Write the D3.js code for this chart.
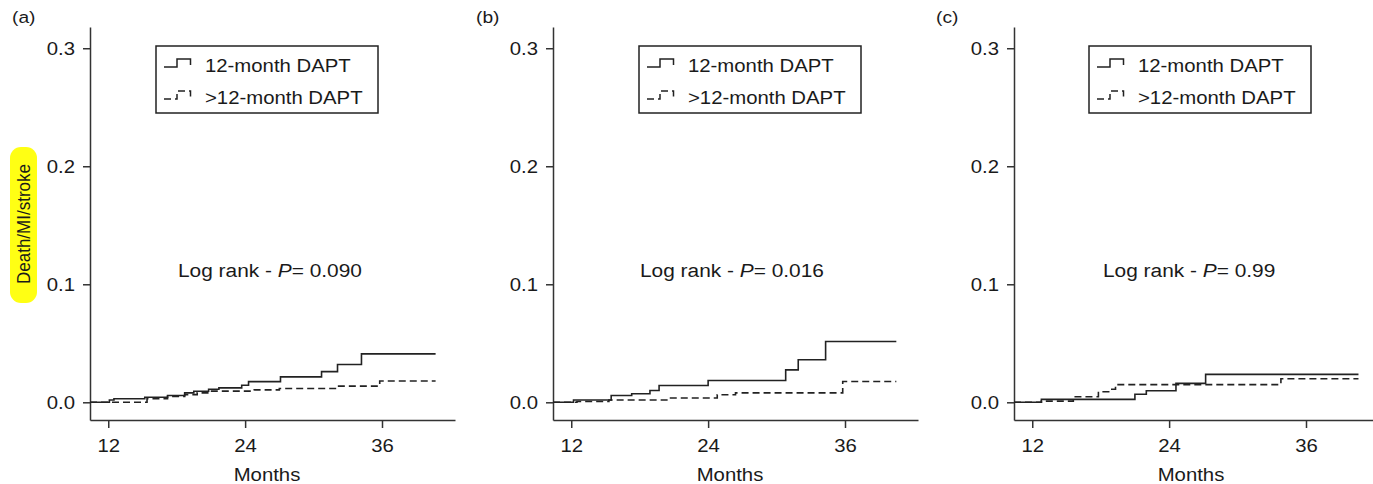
<!DOCTYPE html>
<html>
<head>
<meta charset="utf-8">
<script src="https://cdn.jsdelivr.net/npm/d3@7"></script>
<style>
  body { margin: 0; background: #fff; }
  svg { display: block; font-family: "Liberation Sans", Arial, sans-serif; }
</style>
</head>
<body>
<svg id="chart"></svg>
<script>
const width = 1373;
const height = 484;

const panelLabels = ["(a)", "(b)", "(c)"];
const pValues = ["0.090", "0.016", "0.99"];
const seriesNames = ["12-month DAPT", ">12-month DAPT"];
const xTicks = [12, 24, 36];
const yTicks = [0, 0.1, 0.2, 0.3];
const yLabel = "Death/MI/stroke";
const xLabel = "Months";
const followUpEnd = [40.7, 40.5, 40.6];

// [month, cumulative event rate] step points
const twelveA = [[10.4, 0], [12.1, 0.002], [12.5, 0.003], [15.2, 0.0043], [17.2, 0.0057], [18.7, 0.008], [19.5, 0.0094], [20.8, 0.011], [21.7, 0.0122], [23.7, 0.0145], [24.3, 0.0175], [27.1, 0.0215], [30.7, 0.026], [32.1, 0.032], [34.2, 0.041]];
const longerA = [[10.4, 0], [15.4, 0.003], [17.2, 0.005], [18.7, 0.0065], [19.8, 0.008], [20.8, 0.0095], [24.8, 0.0105], [27.0, 0.0117], [32.0, 0.0137], [35.8, 0.018]];
const twelveB = [[10.4, 0], [12.2, 0.002], [15.5, 0.0058], [17.3, 0.0072], [18.9, 0.01], [19.7, 0.0142], [24.0, 0.0185], [30.8, 0.0275], [31.9, 0.036], [34.3, 0.0515]];
const longerB = [[10.4, 0], [12.5, 0.0007], [15.3, 0.002], [20.5, 0.0036], [24.8, 0.0064], [26.4, 0.008], [35.8, 0.0176]];
const twelveC = [[10.4, 0], [12.8, 0.0025], [21.0, 0.0068], [22.0, 0.0098], [24.6, 0.016], [27.2, 0.0237]];
const longerC = [[10.4, 0], [12.8, 0.001], [15.6, 0.0047], [17.8, 0.009], [18.7, 0.011], [19.3, 0.015], [33.8, 0.02]];

const ink = "#1a1a1a";
const stretch = 1.13;
const fontSize = 18;

const panels = [
  { label: panelLabels[0], p: pValues[0], end: followUpEnd[0], curves: [twelveA, longerA], left: 90, labelX: 12, legendX: 156, pX: 178 },
  { label: panelLabels[1], p: pValues[1], end: followUpEnd[1], curves: [twelveB, longerB], left: 553, labelX: 476, legendX: 639, pX: 640 },
  { label: panelLabels[2], p: pValues[2], end: followUpEnd[2], curves: [twelveC, longerC], left: 1014, labelX: 936, legendX: 1089, pX: 1103 },
];

const svg = d3.select("#chart")
  .attr("width", width)
  .attr("height", height)
  .attr("viewBox", [0, 0, width, height]);

const y = d3.scaleLinear().domain([-0.015, 0.318]).range([420, 27]);

const addText = (g, x, yPos, str, anchor) =>
  g.append("text")
    .attr("transform", `translate(${x},${yPos}) scale(${stretch},1)`)
    .attr("font-size", fontSize)
    .attr("text-anchor", anchor || "start")
    .attr("fill", ink)
    .text(str);

// y label with highlight
svg.append("rect")
  .attr("x", 10).attr("y", 147)
  .attr("width", 27).attr("height", 156)
  .attr("rx", 11)
  .attr("fill", "#ffff14");
svg.append("text")
  .attr("transform", `translate(30,224) rotate(-90) scale(1,1.1)`)
  .attr("font-size", 17)
  .attr("text-anchor", "middle")
  .attr("fill", ink)
  .text(yLabel);

panels.forEach((p) => {
  const x = d3.scaleLinear().domain([10.4, 42.4]).range([p.left, p.left + 365]);
  const g = svg.append("g");

  addText(g, p.labelX, 23, p.label).attr("font-size", 17);

  // y axis
  const yAxis = g.append("g")
    .attr("transform", `translate(${p.left},0)`)
    .call(d3.axisLeft(y).tickValues(yTicks).tickFormat(d3.format(".1f")).tickSize(7).tickSizeOuter(0));
  yAxis.selectAll("text")
    .attr("x", null)
    .attr("dy", null)
    .attr("font-size", fontSize)
    .attr("fill", ink)
    .attr("transform", `translate(-15,6) scale(${stretch},1)`);

  // x axis
  const xAxis = g.append("g")
    .attr("transform", `translate(0,420)`)
    .call(d3.axisBottom(x).tickValues(xTicks).tickSize(8).tickSizeOuter(0));
  xAxis.selectAll("text")
    .attr("y", null)
    .attr("dy", null)
    .attr("font-size", fontSize)
    .attr("fill", ink)
    .attr("transform", `translate(0,32) scale(${stretch},1)`);

  [yAxis, xAxis].forEach((a) => {
    a.attr("font-family", null);
    a.select(".domain").attr("stroke", "#333").attr("stroke-width", 1.5);
    a.selectAll(".tick line").attr("stroke", "#333").attr("stroke-width", 1.5);
  });

  addText(g, p.left + 177, 481, xLabel, "middle");

  // curves
  const line = d3.line()
    .x((d) => x(d[0]))
    .y((d) => y(d[1]))
    .curve(d3.curveStepAfter);

  p.curves.forEach((c, i) => {
    const pts = c.concat([[p.end, c[c.length - 1][1]]]);
    g.append("path")
      .datum(pts)
      .attr("d", line)
      .attr("fill", "none")
      .attr("stroke", "#222")
      .attr("stroke-width", 1.6)
      .attr("stroke-dasharray", i === 1 ? "7,4" : null);
  });

  // legend
  const lg = g.append("g").attr("transform", `translate(${p.legendX},46)`);
  lg.append("rect")
    .attr("width", 222).attr("height", 67)
    .attr("fill", "#fff")
    .attr("stroke", "#222")
    .attr("stroke-width", 1.5);
  seriesNames.forEach((name, i) => {
    const yy = 21 + i * 32;
    lg.append("path")
      .attr("d", `M8,${yy} H21 V${yy - 8} H34.5 V${yy - 2}`)
      .attr("fill", "none")
      .attr("stroke", "#222")
      .attr("stroke-width", 1.5)
      .attr("stroke-dasharray", i === 1 ? "7,4" : null);
    addText(lg, 49, yy + 4.5, name);
  });

  // log rank text
  const t = g.append("text")
    .attr("transform", `translate(${p.pX},276.5) scale(1.16,1)`)
    .attr("font-size", fontSize)
    .attr("fill", ink);
  t.append("tspan").text("Log rank - ");
  t.append("tspan").attr("font-style", "italic").text("P");
  t.append("tspan").text("= " + p.p);
});
</script>
</body>
</html>
